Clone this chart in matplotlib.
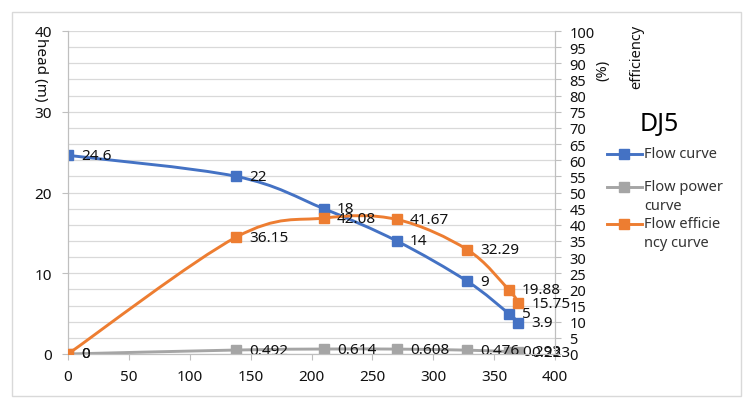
import numpy as np
import matplotlib.pyplot as plt
from matplotlib.path import Path
from matplotlib.patches import PathPatch, Rectangle
from matplotlib.lines import Line2D
from matplotlib.ticker import MultipleLocator

plt.rcParams['font.family'] = ['Noto Sans', 'DejaVu Sans']

# data
flow = [0, 138, 210, 270, 328, 362, 370]
head = [24.6, 22, 18, 14, 9, 5, 3.9]
power = [0, 0.492, 0.614, 0.608, 0.476, 0.293, 0.223]
eff = [0, 36.15, 42.08, 41.67, 32.29, 19.88, 15.75]
x_ticks = [0, 50, 100, 150, 200, 250, 300, 350, 400]

BLUE = '#4472C4'
GREY = '#A5A5A5'
ORANGE = '#ED7D31'
GRID = '#D9D9D9'
TXT = '#111111'


def smooth_path(xs, ys):
    # Excel style smoothed line: cubic bezier through the points
    pts = np.column_stack([xs, ys]).astype(float)
    n = len(pts)
    verts = [pts[0]]
    codes = [Path.MOVETO]
    for i in range(n - 1):
        p0 = pts[max(i - 1, 0)]
        p1 = pts[i]
        p2 = pts[i + 1]
        p3 = pts[min(i + 2, n - 1)]
        c1 = p1 + (p2 - p0) / 6.0
        c2 = p2 - (p3 - p1) / 6.0
        verts += [c1, c2, p2]
        codes += [Path.CURVE4] * 3
    return Path(verts, codes)


def draw_series(ax, xs, ys, color, labels, z):
    ax.add_patch(PathPatch(smooth_path(xs, ys), fill=False, edgecolor=color,
                           lw=2.1, zorder=z, capstyle='round'))
    ax.plot(xs, ys, ls='none', marker='s', ms=6.5, color=color, zorder=z + 0.1)
    for x, y, s in zip(xs, ys, labels):
        ax.annotate(s, (x, y), xytext=(9.5, 0), textcoords='offset points',
                    va='center', ha='left', fontsize=11, color=TXT, zorder=z + 0.2)


fig = plt.figure(figsize=(7.47, 4.02), dpi=100)
fig.add_artist(Rectangle((12 / 747, 5 / 402), 729 / 747, 384 / 402, transform=fig.transFigure,
                         fill=False, edgecolor=GRID, lw=1))

ax = fig.add_axes([68 / 747, 47 / 402, 487 / 747, 323 / 402])
ax2 = ax.twinx()

ax.set_xlim(0, 400)
ax.set_ylim(0, 40)
ax2.set_ylim(0, 100)

ax.set_xticks(x_ticks)
ax.set_yticks([0, 10, 20, 30, 40])
ax.yaxis.set_minor_locator(MultipleLocator(2))
ax.grid(which='both', axis='y', color=GRID, lw=0.9, zorder=0)
ax.set_axisbelow(True)
ax2.set_yticks(np.arange(0, 101, 5))

for a in (ax, ax2):
    a.spines['top'].set_visible(False)
    for s in ('left', 'right', 'bottom'):
        a.spines[s].set_color('#BFBFBF')
ax.tick_params(axis='y', which='major', length=4.5, color='#BFBFBF', pad=7,
               labelsize=11, labelcolor=TXT)
ax.tick_params(axis='y', which='minor', length=0)
ax.tick_params(axis='x', length=4, color='#BFBFBF', pad=7, labelsize=11, labelcolor=TXT)
ax2.tick_params(axis='y', length=4.5, color='#BFBFBF', pad=6, labelsize=10.5, labelcolor=TXT)

draw_series(ax, flow, head, BLUE, [f'{v:g}' for v in head], 3)
draw_series(ax, flow, power, GREY, [f'{v:g}' for v in power], 3)
draw_series(ax2, flow, eff, ORANGE, [f'{v:g}' for v in eff], 4)

# axis titles
fig.text(40 / 747, 1 - 70 / 402, 'head (m)', rotation=-90, ha='center', va='center',
         fontsize=11, color=TXT)
fig.text(603 / 747, 1 - 70 / 402, '(%)', rotation=90, ha='center', va='center',
         fontsize=10.5, color=TXT)
fig.text(637 / 747, 1 - 57 / 402, 'efficiency', rotation=90, ha='center', va='center',
         fontsize=10.5, color=TXT)

# legend
fig.text(640 / 747, 1 - 125 / 402, 'DJ5', ha='left', va='center', fontsize=18, color='black')
leg = [(BLUE, 'Flow curve', 155), (GREY, 'Flow power\ncurve', 188), (ORANGE, 'Flow efficie\nncy curve', 225)]
for col, lab, yp in leg:
    yf = 1 - yp / 402
    fig.add_artist(Line2D([607 / 747, 624 / 747, 642 / 747], [yf, yf, yf], transform=fig.transFigure,
                          color=col, lw=2.1, marker='s', ms=6.5, markevery=[1]))
    fig.text(644 / 747, yf + 8 / 402, lab, ha='left', va='top', fontsize=10.5,
             color='#333333', linespacing=1.35)

fig.savefig('out.png', dpi=100)
